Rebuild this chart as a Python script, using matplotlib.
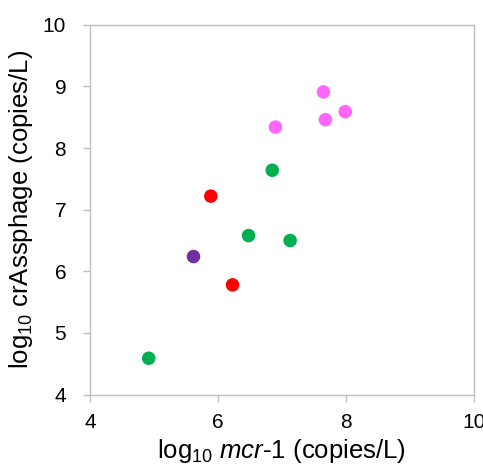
import matplotlib
matplotlib.use('Agg')
import matplotlib.pyplot as plt

plt.rcParams['font.family'] = ['Liberation Sans', 'DejaVu Sans']
plt.rcParams['mathtext.fontset'] = 'custom'
plt.rcParams['mathtext.rm'] = 'Liberation Sans'
plt.rcParams['mathtext.it'] = 'Liberation Sans:italic'

# data
green_x = [4.92, 6.48, 6.85, 7.13]
green_y = [4.59, 6.58, 7.64, 6.50]
red_x = [5.89, 6.23]
red_y = [7.22, 5.78]
purple_x = [5.62]
purple_y = [6.24]
pink_x = [6.90, 7.65, 7.68, 7.99]
pink_y = [8.34, 8.91, 8.46, 8.59]

fig = plt.figure(figsize=(4.83, 4.67), dpi=100)
ax = fig.add_axes([0.186, 0.155, 0.795, 0.792])

ax.scatter(green_x, green_y, s=95, color='#00B050', edgecolors='none', zorder=3)
ax.scatter(red_x, red_y, s=95, color='#FF0000', edgecolors='none', zorder=3)
ax.scatter(purple_x, purple_y, s=95, color='#7030A0', edgecolors='none', zorder=3)
ax.scatter(pink_x, pink_y, s=95, color='#FF66FF', edgecolors='none', zorder=3)

ax.set_xlim(4, 10)
ax.set_ylim(4, 10)
ax.set_xticks([4, 6, 8, 10])
ax.set_yticks([4, 5, 6, 7, 8, 9, 10])

for sp in ax.spines.values():
    sp.set_color('#BFBFBF')
    sp.set_linewidth(1.0)
ax.tick_params(colors='#BFBFBF', labelcolor='black', labelsize=15, length=5, width=1)
ax.tick_params(axis='x', pad=8)
ax.tick_params(axis='y', pad=12)

ax.set_xlabel(r'log$_{10}$ $\mathit{mcr}$-$\mathit{1}$ (copies/L)', fontsize=18.5, labelpad=4)
ax.set_ylabel(r'log$_{10}$ crAssphage (copies/L)', fontsize=18.5, labelpad=6)

fig.savefig('out.png', dpi=100)
